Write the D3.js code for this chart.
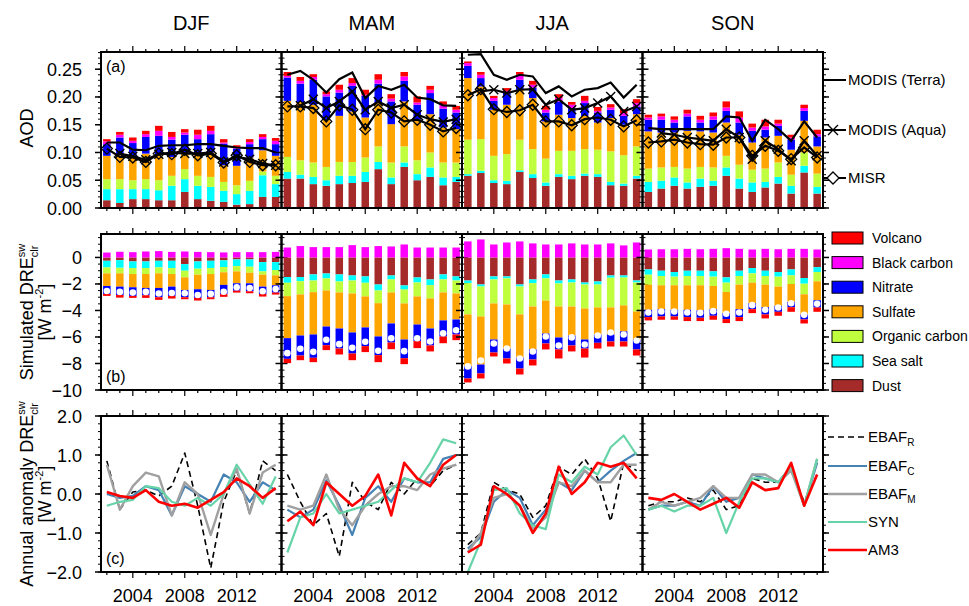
<!DOCTYPE html>
<html><head><meta charset="utf-8">
<script src="https://cdn.jsdelivr.net/npm/d3@7"></script>
<style>body{margin:0;background:#fff}svg{font-family:"Liberation Sans",Arial,Helvetica,sans-serif}</style>
</head><body><svg id="chart" width="969" height="606"></svg>
<script>
// ---------------- DATA ----------------
const seasons = ["DJF", "MAM", "JJA", "SON"];
const years = [2002,2003,2004,2005,2006,2007,2008,2009,2010,2011,2012,2013,2014,2015];
const yearTicks = [2004, 2008, 2012];
const aodTicks = [0.00, 0.05, 0.10, 0.15, 0.20, 0.25];
const dreTicks = [0, -2, -4, -6, -8, -10];
const anomTicks = [2.0, 1.0, 0.0, -1.0, -2.0];

// (a) AOD components, one row per season [DJF, MAM, JJA, SON]
const aodDust = [
  [.014,.009,.016,.016,.014,.014,.029,.016,.013,.011,.006,.007,.020,.020],
  [.053,.053,.043,.040,.043,.045,.047,.070,.043,.074,.050,.056,.041,.047],
  [.058,.063,.045,.043,.065,.054,.040,.056,.052,.058,.056,.041,.040,.053],
  [.029,.035,.040,.035,.038,.040,.058,.035,.029,.037,.044,.026,.064,.026]];
const aodSeaSalt = [
  [.020,.025,.018,.018,.018,.026,.023,.024,.025,.020,.019,.024,.039,.023],
  [.012,.007,.013,.010,.015,.013,.018,.013,.012,.008,.011,.017,.014,.009],
  [.003,.004,.005,.006,.003,.007,.006,.005,.006,.004,.005,.006,.004,.005],
  [.018,.014,.015,.011,.015,.009,.015,.018,.017,.010,.012,.014,.012,.012]];
const aodOrgCarbon = [
  [.018,.018,.016,.018,.018,.018,.018,.018,.018,.016,.016,.018,.007,.015],
  [.027,.026,.026,.024,.025,.025,.026,.028,.027,.029,.025,.027,.027,.026],
  [.062,.057,.044,.048,.055,.045,.043,.042,.045,.044,.044,.055,.051,.053],
  [.024,.024,.019,.025,.021,.024,.021,.025,.023,.024,.026,.020,.024,.024]];
const aodSulfate = [
  [.042,.043,.042,.046,.045,.034,.030,.042,.044,.030,.035,.042,.038,.036],
  [.101,.105,.104,.085,.083,.091,.072,.078,.069,.081,.073,.069,.063,.060],
  [.111,.095,.083,.089,.090,.092,.067,.065,.059,.060,.049,.060,.055,.058],
  [.067,.063,.062,.068,.064,.063,.060,.054,.049,.056,.048,.045,.057,.049]];
const aodNitrate = [
  [.021,.032,.025,.030,.035,.031,.032,.024,.033,.039,.031,.024,.020,.021],
  [.042,.033,.045,.042,.042,.046,.039,.035,.041,.037,.027,.038,.034,.030],
  [.022,.015,.016,.022,.018,.019,.016,.024,.018,.023,.018,.015,.016,.014],
  [.021,.023,.018,.026,.016,.023,.021,.022,.021,.014,.018,.018,.018,.018]];
const aodBlackCarbon = [
  [.005,.005,.004,.005,.009,.005,.004,.008,.006,.002,.002,.004,.004,.006],
  [.003,.005,.005,.004,.005,.005,.002,.007,.005,.008,.004,.006,.007,.005],
  [.005,.006,.005,.003,.009,.005,.005,.006,.006,.004,.003,.004,.005,.006],
  [.004,.006,.005,.005,.005,.006,.006,.009,.006,.006,.004,.004,.005,.004]];
const aodVolcano = [
  [.004,.005,.006,.006,.009,.009,.006,.009,.009,.006,.004,.005,.005,.005],
  [.007,.007,.005,.005,.009,.009,.009,.010,.008,.008,.011,.007,.006,.007],
  [.003,.005,.004,.005,.005,.007,.007,.007,.005,.009,.007,.006,.007,.007],
  [.005,.005,.006,.007,.007,.007,.011,.011,.007,.012,.007,.005,.006,.008]];

// (a) observed AOD
const modisTerra = [
  [.118,.118,.105,.104,.112,.113,.113,.115,.115,.112,.109,.108,.108,.100],
  [.240,.247,.231,.208,.232,.244,.198,.220,.213,.222,.199,.196,.185,.184],
  [.276,.277,.240,.231,.240,.237,.207,.219,.201,.213,.216,.226,.199,.222],
  [.144,.142,.142,.142,.142,.142,.165,.163,.121,.159,.142,.121,.156,.127]];
const modisAqua = [
  [null,.098,.093,.087,.097,.100,.098,.098,.100,.083,.092,.088,.080,.077],
  [null,.184,.196,.180,.192,.210,.177,.192,.180,.186,.168,.160,.155,.160],
  [null,.210,.213,.207,.213,.214,.186,.196,.177,.180,.189,.201,.174,.183],
  [null,.135,.132,.127,.124,.121,.142,.127,.088,.121,.106,.085,.121,.094]];
const misr = [
  [.107,.092,.091,.083,.098,.097,.105,.095,.098,.082,.095,.083,.077,.077],
  [.183,.183,.180,.156,.185,.177,.142,.177,.172,.156,.159,.150,.138,.144],
  [.203,.214,.178,.173,.176,.186,.156,.156,.149,.160,.163,.159,.147,.158],
  [.118,.120,.123,.118,.115,.114,.127,.127,.094,.112,.103,.088,.109,.091]];

// (b) simulated clear-sky SW DRE components (W m-2)
const dreBlackCarbon = [
  [0.37,0.43,0.40,0.45,0.48,0.42,0.45,0.42,0.40,0.38,0.40,0.40,0.40,0.42],
  [0.75,0.86,0.78,0.78,0.78,0.93,0.78,0.86,0.83,0.98,0.75,0.75,0.75,0.75],
  [1.21,1.36,0.98,1.13,1.21,1.06,0.98,0.98,1.06,0.98,0.98,1.06,0.91,1.13],
  [0.60,0.62,0.62,0.65,0.62,0.65,0.70,0.65,0.60,0.65,0.62,0.65,0.65,0.60]];
const dreDust = [
  [-0.25,-0.20,-0.30,-0.30,-0.25,-0.25,-0.50,-0.30,-0.25,-0.22,-0.15,-0.15,-0.35,-0.35],
  [-1.48,-1.48,-1.28,-1.21,-1.28,-1.36,-1.43,-2.04,-1.36,-2.11,-1.51,-1.66,-1.28,-1.43],
  [-1.74,-2.04,-1.43,-1.43,-2.04,-1.66,-1.28,-1.74,-1.66,-1.89,-1.81,-1.36,-1.36,-1.74],
  [-0.90,-1.00,-1.10,-1.00,-1.00,-1.05,-1.50,-1.00,-0.80,-1.00,-1.10,-0.90,-1.55,-0.73]];
const dreSeaSalt = [
  [-0.50,-0.58,-0.50,-0.50,-0.50,-0.55,-0.50,-0.55,-0.55,-0.50,-0.50,-0.55,-0.70,-0.60],
  [-0.43,-0.31,-0.46,-0.37,-0.53,-0.38,-0.48,-0.45,-0.30,-0.31,-0.38,-0.43,-0.38,-0.31],
  [-0.20,-0.15,-0.23,-0.15,-0.15,-0.28,-0.30,-0.22,-0.23,-0.15,-0.23,-0.17,-0.15,-0.15],
  [-0.40,-0.40,-0.35,-0.40,-0.40,-0.40,-0.40,-0.40,-0.40,-0.40,-0.35,-0.45,-0.43,-0.37]];
const dreOrgCarbon = [
  [-0.45,-0.42,-0.45,-0.45,-0.45,-0.45,-0.50,-0.45,-0.45,-0.40,-0.40,-0.45,-0.25,-0.40],
  [-1.01,-1.00,-0.88,-0.91,-0.83,-0.98,-1.03,-0.96,-0.98,-1.05,-1.05,-1.00,-0.98,-0.98],
  [-2.36,-2.26,-1.81,-1.97,-2.11,-1.76,-1.67,-1.74,-1.81,-1.81,-1.73,-2.24,-2.11,-2.19],
  [-0.75,-0.70,-0.65,-0.70,-0.70,-0.70,-0.70,-0.65,-0.70,-0.65,-0.75,-0.65,-0.80,-0.70]];
const dreSulfate = [
  [-0.95,-1.00,-1.00,-1.05,-1.10,-0.95,-0.95,-1.10,-1.20,-0.95,-0.90,-0.80,-0.90,-0.75],
  [-3.17,-3.10,-3.19,-2.72,-2.72,-2.94,-2.34,-2.51,-2.34,-2.72,-2.12,-2.27,-2.11,-1.96],
  [-3.90,-3.63,-2.72,-3.32,-3.25,-3.24,-2.49,-2.34,-2.19,-2.34,-2.04,-2.04,-1.96,-2.11],
  [-1.90,-1.80,-1.85,-1.85,-1.90,-1.75,-1.60,-1.85,-1.55,-1.70,-1.45,-1.35,-1.52,-1.43]];
const dreNitrate = [
  [-0.60,-0.63,-0.65,-0.55,-0.70,-0.70,-0.55,-0.65,-0.55,-0.70,-0.55,-0.60,-0.55,-0.55],
  [-1.56,-1.51,-1.76,-1.41,-1.51,-1.59,-1.41,-1.41,-1.44,-1.41,-1.25,-1.28,-1.21,-1.13],
  [-0.93,-0.67,-0.98,-0.75,-0.83,-0.76,-0.75,-0.90,-0.75,-0.68,-0.63,-0.53,-0.76,-0.75],
  [-0.55,-0.55,-0.50,-0.55,-0.55,-0.50,-0.45,-0.60,-0.45,-0.55,-0.45,-0.40,-0.38,-0.55]];
const dreVolcano = [
  [-0.15,-0.20,-0.15,-0.20,-0.20,-0.20,-0.15,-0.20,-0.15,-0.20,-0.15,-0.15,-0.20,-0.15],
  [-0.32,-0.35,-0.33,-0.37,-0.45,-0.50,-0.45,-0.53,-0.50,-0.45,-0.53,-0.45,-0.51,-0.43],
  [-0.30,-0.38,-0.30,-0.38,-0.45,-0.45,-0.45,-0.68,-0.45,-0.68,-0.43,-0.38,-0.38,-0.46],
  [-0.25,-0.25,-0.25,-0.30,-0.25,-0.30,-0.30,-0.30,-0.30,-0.30,-0.30,-0.35,-0.30,-0.32]];

// (c) annual anomaly of clear-sky SW DRE (W m-2)
const ebafR = [
  [0.85,-0.40,0.05,0.10,-0.05,0.20,1.05,-0.30,-1.90,-0.20,0.60,-0.50,0.85,0.60],
  [0.50,-0.20,-0.80,-0.50,-1.60,0.30,-0.20,-0.40,0.30,0.00,0.40,0.20,0.60,0.75],
  [-1.30,-1.00,0.30,0.10,0.00,-0.60,-0.30,0.70,0.50,0.90,0.40,-0.70,0.80,0.60],
  [-0.30,-0.20,-0.20,-0.10,-0.20,0.10,-0.40,-0.30,0.40,0.30,0.30,0.60,-0.20,0.50]];
const ebafC = [
  [0.00,-0.10,-0.05,0.20,0.10,-0.55,0.20,0.00,-0.20,0.50,0.30,-0.20,0.30,0.10],
  [-0.40,-0.60,-0.40,0.35,-0.30,-1.05,-0.10,0.20,-0.20,0.40,0.30,0.30,0.90,1.00],
  [-1.40,-1.10,-0.20,0.10,-0.10,-0.80,-0.40,0.30,0.10,0.60,0.30,0.60,0.85,1.05],
  [-0.40,-0.30,-0.30,-0.20,-0.30,0.20,-0.20,-0.10,0.50,0.40,0.30,0.70,-0.30,0.80]];
const ebafM = [
  [0.75,-0.40,0.20,0.55,0.45,-0.55,0.30,0.00,-1.05,0.00,0.65,-0.50,0.55,0.75],
  [-0.30,-0.40,-0.30,0.50,-0.40,-0.80,-0.30,0.00,0.20,0.20,0.10,0.50,0.65,0.75],
  [-1.50,-1.00,-0.10,0.00,-0.30,-0.90,-0.60,0.30,0.20,0.60,0.30,0.30,0.75,0.75],
  [-0.40,-0.20,-0.30,-0.20,-0.10,0.20,-0.10,-0.10,0.50,0.50,0.30,0.60,-0.30,0.90]];
const syn = [
  [-0.30,-0.20,-0.15,0.20,0.15,-0.20,-0.30,-0.10,-0.30,0.00,0.75,0.25,-0.25,0.45],
  [-1.50,-0.60,-0.50,0.00,-0.50,-0.40,-0.30,-0.20,0.10,0.40,0.30,0.80,1.40,1.30],
  [-2.00,-1.20,0.10,0.15,-0.50,-0.80,-0.90,0.50,0.30,0.70,0.50,1.20,1.50,1.00],
  [-0.40,-0.30,-0.45,-0.30,-0.30,-0.10,-1.00,-0.20,0.40,0.40,0.30,0.70,-0.30,0.90]];
const am3 = [
  [0.05,-0.05,-0.10,0.10,-0.20,-0.30,-0.25,-0.35,-0.15,0.05,0.40,0.20,-0.10,0.15],
  [-0.70,-0.45,-0.80,0.30,0.00,-0.30,-0.05,0.50,-0.55,0.80,0.40,0.20,0.75,1.00],
  [-1.50,-1.30,0.20,0.00,-0.30,-1.00,-0.50,0.70,0.00,0.30,0.80,0.70,0.80,0.40],
  [-0.10,-0.15,0.00,-0.20,-0.40,-0.25,-0.10,-0.35,0.30,0.10,0.15,0.80,-0.30,0.50]];

// ---------------- DRAWING ----------------
const svg = d3.select("#chart");
const keys = ["du","ss","oc","su","ni","bc","vo"];
const colorOf = {du:"#a52a2a", ss:"#00ffff", oc:"#c0ff3e", su:"#ffa500", ni:"#0000ff", bc:"#ff00ff", vo:"#ff0000"};
const colLeft = 101, colW = 180.5;
const rowA = [208, 52], rowB = [390, 234], rowC = [572, 416];
const yA = d3.scaleLinear().domain([0, 0.281]).range(rowA);
const yB = d3.scaleLinear().domain([-10, 1.77]).range(rowB);
const yC = d3.scaleLinear().domain([-2, 2]).range(rowC);
const barW = 7.5;

function xScale(c) {
  const x0 = colLeft + c * colW;
  return d3.scaleLinear().domain([2001.55, 2015.45]).range([x0, x0 + colW]);
}

function frame(x, y, c, majors, minors, fmt) {
  const g = svg.append("g");
  const [x0, x1] = x.range();
  const [yb, yt] = y.range();
  minors.forEach(v => {
    g.append("line").attr("x1", x0 - 3).attr("x2", x0).attr("y1", y(v)).attr("y2", y(v)).attr("stroke", "#000").attr("stroke-width", 1);
    g.append("line").attr("x1", x1).attr("x2", x1 + 3).attr("y1", y(v)).attr("y2", y(v)).attr("stroke", "#000").attr("stroke-width", 1);
  });
  majors.forEach(v => {
    g.append("line").attr("x1", x0 - 6).attr("x2", x0).attr("y1", y(v)).attr("y2", y(v)).attr("stroke", "#000").attr("stroke-width", 1.5);
    g.append("line").attr("x1", x1).attr("x2", x1 + 6).attr("y1", y(v)).attr("y2", y(v)).attr("stroke", "#000").attr("stroke-width", 1.5);
  });
  if (c === 0) {
    majors.forEach(v => {
      g.append("text").attr("x", x0 - 19).attr("y", y(v) + 6.5).attr("text-anchor", "end")
        .attr("font-size", 18).text(fmt(v));
    });
  }
  years.forEach(yr => {
    const len = yearTicks.includes(yr) ? 6 : 3;
    g.append("line").attr("x1", x(yr)).attr("x2", x(yr)).attr("y1", yb).attr("y2", yb + len).attr("stroke", "#000").attr("stroke-width", 1.2);
    g.append("line").attr("x1", x(yr)).attr("x2", x(yr)).attr("y1", yt).attr("y2", yt - len).attr("stroke", "#000").attr("stroke-width", 1.2);
  });
  g.append("rect").attr("x", x0).attr("y", yt).attr("width", x1 - x0).attr("height", yb - yt)
    .attr("fill", "none").attr("stroke", "#000").attr("stroke-width", 2);
}

const aodMinor = d3.range(0, 0.2801, 0.01);
const dreMinor = d3.range(-10, 1.51, 0.5);
const anomMinor = d3.range(-2, 2.001, 0.2);

seasons.forEach((s, c) => {
  const x = xScale(c);
  svg.append("text").attr("x", (x.range()[0] + x.range()[1]) / 2).attr("y", 30).attr("text-anchor", "middle")
    .attr("font-size", 20).text(s);

  // ---- (a) AOD stacked bars ----
  const rowsA = years.map((yr, i) => ({year: yr, du: aodDust[c][i], ss: aodSeaSalt[c][i], oc: aodOrgCarbon[c][i],
    su: aodSulfate[c][i], ni: aodNitrate[c][i], bc: aodBlackCarbon[c][i], vo: aodVolcano[c][i]}));
  const stA = d3.stack().keys(keys)(rowsA);
  const gA = svg.append("g");
  stA.forEach(layer => {
    gA.selectAll(null).data(layer).enter().append("rect")
      .attr("x", d => x(d.data.year) - barW / 2).attr("width", barW)
      .attr("y", d => yA(d[1])).attr("height", d => yA(d[0]) - yA(d[1]))
      .attr("fill", colorOf[layer.key]);
  });
  const lineA = d3.line().defined(d => d.v !== null).x(d => x(d.year)).y(d => yA(d.v));
  const series = [
    {vals: modisTerra[c], mk: null},
    {vals: modisAqua[c], mk: "x"},
    {vals: misr[c], mk: "d"}];
  series.forEach(sr => {
    const pts = years.map((yr, i) => ({year: yr, v: sr.vals[i]}));
    gA.append("path").attr("d", lineA(pts)).attr("fill", "none").attr("stroke", "#000").attr("stroke-width", 2.2);
    pts.filter(p => p.v !== null).forEach(p => {
      const px = x(p.year), py = yA(p.v);
      if (sr.mk === "x") gA.append("path").attr("d", `M${px-4.5},${py-4.5}L${px+4.5},${py+4.5}M${px-4.5},${py+4.5}L${px+4.5},${py-4.5}`)
        .attr("stroke", "#000").attr("stroke-width", 1.4).attr("fill", "none");
      if (sr.mk === "d") gA.append("path").attr("d", `M${px},${py-5.5}L${px+5.5},${py}L${px},${py+5.5}L${px-5.5},${py}Z`)
        .attr("stroke", "#000").attr("stroke-width", 1.3).attr("fill", "none");
    });
  });
  frame(x, yA, c, aodTicks, aodMinor, d3.format(".2f"));

  // ---- (b) DRE stacked bars ----
  const rowsB = years.map((yr, i) => ({year: yr, du: dreDust[c][i], ss: dreSeaSalt[c][i], oc: dreOrgCarbon[c][i],
    su: dreSulfate[c][i], ni: dreNitrate[c][i], bc: dreBlackCarbon[c][i], vo: dreVolcano[c][i]}));
  const stB = d3.stack().keys(keys).offset(d3.stackOffsetDiverging)(rowsB);
  const gB = svg.append("g");
  stB.forEach(layer => {
    gB.selectAll(null).data(layer).enter().append("rect")
      .attr("x", d => x(d.data.year) - barW / 2).attr("width", barW)
      .attr("y", d => yB(Math.max(d[0], d[1]))).attr("height", d => Math.abs(yB(d[0]) - yB(d[1])))
      .attr("fill", colorOf[layer.key]);
  });
  gB.selectAll(null).data(rowsB).enter().append("circle")
    .attr("cx", d => x(d.year)).attr("cy", d => yB(d3.sum(keys, k => d[k])))
    .attr("r", 3.3).attr("fill", "#fff");
  frame(x, yB, c, dreTicks, dreMinor, d3.format("d"));

  // ---- (c) anomaly lines ----
  const gC = svg.append("g");
  const lineC = d3.line().x(d => x(d.year)).y(d => yC(d.v));
  const lines = [
    {vals: ebafR[c], col: "#000", w: 1.6, dash: "6,4"},
    {vals: ebafC[c], col: "#4682b4", w: 2.2},
    {vals: ebafM[c], col: "#a0a0a0", w: 2.4},
    {vals: syn[c], col: "#66d4a8", w: 2.2},
    {vals: am3[c], col: "#ff0000", w: 2.6}];
  lines.forEach(l => {
    const pts = years.map((yr, i) => ({year: yr, v: l.vals[i]}));
    gC.append("path").attr("d", lineC(pts)).attr("fill", "none").attr("stroke", l.col)
      .attr("stroke-width", l.w).attr("stroke-dasharray", l.dash || null).attr("stroke-linejoin", "round");
  });
  frame(x, yC, c, anomTicks, anomMinor, d3.format(".1f"));

  yearTicks.forEach(yr => {
    svg.append("text").attr("x", x(yr)).attr("y", 602).attr("text-anchor", "middle").attr("font-size", 18).text(yr);
  });
});

svg.append("text").attr("x", 106).attr("y", 72).attr("font-size", 16).text("(a)");
svg.append("text").attr("x", 106).attr("y", 382).attr("font-size", 16).text("(b)");
svg.append("text").attr("x", 106).attr("y", 564).attr("font-size", 16).text("(c)");

function vlabel(x, y, build) {
  const t = svg.append("text").attr("transform", `translate(${x},${y}) rotate(-90)`)
    .attr("text-anchor", "middle").attr("font-size", 18);
  build(t);
}
vlabel(33, 128, t => t.text("AOD"));
vlabel(33, 312, t => {
  t.append("tspan").text("Simulated DRE");
  t.append("tspan").attr("font-size", 11).attr("dy", -8).text("sw");
  t.append("tspan").attr("font-size", 11).attr("dx", -13.4).attr("dy", 13).text("clr");
});
vlabel(51, 312, t => {
  t.append("tspan").text("[W m");
  t.append("tspan").attr("font-size", 11).attr("dy", -8).text("-2");
  t.append("tspan").attr("dy", 8).text("]");
});
vlabel(33, 494, t => {
  t.append("tspan").text("Annual anomaly DRE");
  t.append("tspan").attr("font-size", 11).attr("dy", -8).text("sw");
  t.append("tspan").attr("font-size", 11).attr("dx", -13.4).attr("dy", 13).text("clr");
});
vlabel(51, 494, t => {
  t.append("tspan").text("[W m");
  t.append("tspan").attr("font-size", 11).attr("dy", -8).text("-2");
  t.append("tspan").attr("dy", 8).text("]");
});

// legend (a)
const legA = svg.append("g");
const legAItems = [{label: "MODIS (Terra)", y: 80, mk: null}, {label: "MODIS (Aqua)", y: 130, mk: "x"}, {label: "MISR", y: 178, mk: "d"}];
legAItems.forEach(it => {
  legA.append("line").attr("x1", 824).attr("x2", 846).attr("y1", it.y).attr("y2", it.y).attr("stroke", "#000").attr("stroke-width", 2);
  const px = 833, py = it.y;
  if (it.mk === "x") legA.append("path").attr("d", `M${px-5},${py-5}L${px+5},${py+5}M${px-5},${py+5}L${px+5},${py-5}`).attr("stroke", "#000").attr("stroke-width", 1.4);
  if (it.mk === "d") legA.append("path").attr("d", `M${px},${py-6}L${px+6},${py}L${px},${py+6}L${px-6},${py}Z`).attr("stroke", "#000").attr("stroke-width", 1.3).attr("fill", "#fff");
  legA.append("text").attr("x", 848).attr("y", it.y + 5).attr("font-size", 15).text(it.label);
});

// legend (b)
const legBItems = [["Volcano","vo"],["Black carbon","bc"],["Nitrate","ni"],["Sulfate","su"],["Organic carbon","oc"],["Sea salt","ss"],["Dust","du"]];
legBItems.forEach(([lab, k], i) => {
  const y0 = 232 + i * 24.6;
  svg.append("rect").attr("x", 832).attr("y", y0).attr("width", 31).attr("height", 12).attr("fill", colorOf[k]).attr("stroke", "#000").attr("stroke-width", 1);
  svg.append("text").attr("x", 872).attr("y", y0 + 11).attr("font-size", 14).text(lab);
});

// legend (c)
const legCItems = [
  {main: "EBAF", sub: "R", col: "#000", w: 1.6, dash: "6,4", y: 437},
  {main: "EBAF", sub: "C", col: "#4682b4", w: 2.2, y: 466},
  {main: "EBAF", sub: "M", col: "#a0a0a0", w: 2.4, y: 494},
  {main: "SYN", sub: null, col: "#66d4a8", w: 2.2, y: 522},
  {main: "AM3", sub: null, col: "#ff0000", w: 2.6, y: 550}];
legCItems.forEach(it => {
  svg.append("line").attr("x1", 828).attr("x2", 867).attr("y1", it.y).attr("y2", it.y)
    .attr("stroke", it.col).attr("stroke-width", it.w).attr("stroke-dasharray", it.dash || null);
  const t = svg.append("text").attr("x", 868).attr("y", it.y + 5).attr("font-size", 15);
  t.append("tspan").text(it.main);
  if (it.sub) t.append("tspan").attr("font-size", 10).attr("dy", 4).text(it.sub);
});
</script>
</body></html>
